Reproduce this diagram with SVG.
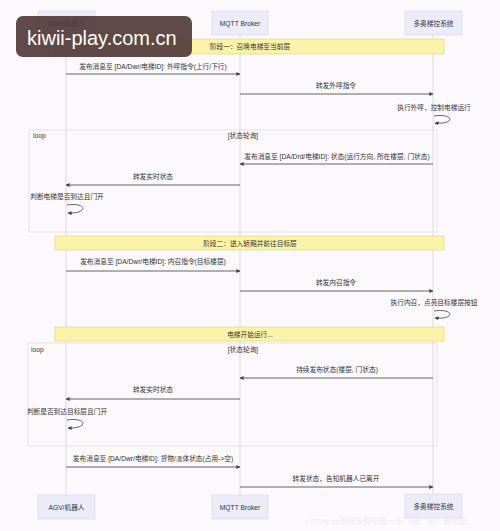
<svg xmlns="http://www.w3.org/2000/svg" width="500" height="531" viewBox="0 0 500 531">
<defs>
<style>
text{font-family:"Liberation Sans","Noto Sans CJK SC",sans-serif;font-size:6.7px;fill:#333;dominant-baseline:central}
.c{text-anchor:middle}
.actor rect{fill:#ececf9;stroke:#dcdcf0;stroke-width:0.8}
.life{stroke:#d2d2d2;stroke-width:0.8}
.msg{stroke:#555;stroke-width:0.9;fill:none}
.note rect{fill:#fbf4a8;stroke:#e4dc8c;stroke-width:0.8}
.loop rect{fill:none;stroke:#dedede;stroke-width:0.8}
</style>
<marker id="ah" viewBox="0 0 10 10" refX="9" refY="5" markerWidth="4.5" markerHeight="4.5" orient="auto-start-reverse"><path d="M0,0 L10,5 L0,10 z" fill="#444"/></marker>
</defs>
<rect x="0" y="0" width="500" height="531" fill="#fcf9fc"/>
<g id="lifelines">
<line class="life" x1="66" y1="35" x2="66" y2="495"/>
<line class="life" x1="240" y1="35" x2="240" y2="495"/>
<line class="life" x1="433" y1="35" x2="433" y2="495"/>
</g>
<g id="actor-agv-top" class="actor"><rect x="38" y="11" width="57" height="24"/><text class="c" x="66.5" y="23">AGV/机器人</text></g>
<g id="actor-mqtt-top" class="actor"><rect x="212" y="11" width="56" height="24"/><text class="c" x="240" y="23">MQTT Broker</text></g>
<g id="actor-sys-top" class="actor"><rect x="405" y="11" width="57" height="24"/><text class="c" x="433.5" y="23">多奥梯控系统</text></g>
<g id="actor-agv-bottom" class="actor"><rect x="38" y="495" width="57" height="24"/><text class="c" x="66.5" y="507">AGV/机器人</text></g>
<g id="actor-mqtt-bottom" class="actor"><rect x="212" y="495" width="56" height="24"/><text class="c" x="240" y="507">MQTT Broker</text></g>
<g id="actor-sys-bottom" class="actor"><rect x="405" y="494" width="57" height="24"/><text class="c" x="433.5" y="506">多奥梯控系统</text></g>
<g id="note1" class="note"><rect x="55" y="39" width="389" height="15"/><text class="c" x="250" y="46.5">阶段一：召唤电梯至当前层</text></g>
<g id="note2" class="note"><rect x="55" y="236" width="389" height="14"/><text class="c" x="250" y="243">阶段二：进入轿厢并前往目标层</text></g>
<g id="note3" class="note"><rect x="55" y="327" width="389" height="14"/><text class="c" x="250" y="334">电梯开始运行...</text></g>
<g id="loop1" class="loop"><rect x="29" y="130" width="408" height="102"/><text x="33" y="135">loop</text><text class="c" x="243" y="135">[状态轮询]</text></g>
<g id="loop2" class="loop"><rect x="28" y="343" width="409" height="103"/><text x="31" y="349">loop</text><text class="c" x="243" y="349">[状态轮询]</text></g>
<g id="connectors">
<line class="msg" x1="66" y1="74" x2="240" y2="74" marker-end="url(#ah)"/>
<line class="msg" x1="240" y1="94" x2="433" y2="94" marker-end="url(#ah)"/>
<path class="msg" d="M434,116 C455,113 455,125 435,123" marker-end="url(#ah)"/>
<line class="msg" x1="433" y1="164" x2="240" y2="164" marker-end="url(#ah)"/>
<line class="msg" x1="240" y1="185" x2="66" y2="185" marker-end="url(#ah)"/>
<path class="msg" d="M67,205 C88,202 88,214 68,213" marker-end="url(#ah)"/>
<line class="msg" x1="66" y1="271" x2="240" y2="271" marker-end="url(#ah)"/>
<line class="msg" x1="240" y1="291" x2="433" y2="291" marker-end="url(#ah)"/>
<path class="msg" d="M434,311 C455,308 455,320 435,318" marker-end="url(#ah)"/>
<line class="msg" x1="433" y1="378" x2="240" y2="378" marker-end="url(#ah)"/>
<line class="msg" x1="240" y1="399" x2="66" y2="399" marker-end="url(#ah)"/>
<path class="msg" d="M67,420 C88,417 88,429 68,428" marker-end="url(#ah)"/>
<line class="msg" x1="66" y1="467" x2="240" y2="467" marker-end="url(#ah)"/>
<line class="msg" x1="240" y1="487" x2="433" y2="487" marker-end="url(#ah)"/>
</g>
<g id="labels">
<text class="c" x="153" y="66">发布消息至 [DA/Dwr/电梯ID]: 外呼指令(上行/下行)</text>
<text class="c" x="336" y="85">转发外呼指令</text>
<text class="c" x="434" y="107">执行外呼，控制电梯运行</text>
<text class="c" x="337" y="156">发布消息至 [DA/Drd/电梯ID]: 状态(运行方向, 所在楼层, 门状态)</text>
<text class="c" x="153" y="176">转发实时状态</text>
<text class="c" x="67" y="196">判断电梯是否到达且门开</text>
<text class="c" x="153" y="261">发布消息至 [DA/Dwr/电梯ID]: 内召指令(目标楼层)</text>
<text class="c" x="336" y="282">转发内召指令</text>
<text class="c" x="434" y="302">执行内召，点亮目标楼层按钮</text>
<text class="c" x="337" y="369">持续发布状态(楼层, 门状态)</text>
<text class="c" x="153" y="389">转发实时状态</text>
<text class="c" x="67" y="411">判断是否到达目标层且门开</text>
<text class="c" x="153" y="458">发布消息至 [DA/Dwr/电梯ID]: 货物/派体状态(占用->空)</text>
<text class="c" x="336" y="478">转发状态，告知机器人已离开</text>
</g>
<text x="306" y="521" style="font-size:8px;fill:#f0ebf0">CSDN @深圳多奥电梯一卡（梯、禁）通系统</text>
<g id="watermark">
<rect x="16" y="16" width="176" height="41" rx="7" fill="#533a3a" fill-opacity="0.92"/>
<text x="27" y="38" style="font-size:20px;fill:#fff">kiwii-play.com.cn</text>
</g>
</svg>
